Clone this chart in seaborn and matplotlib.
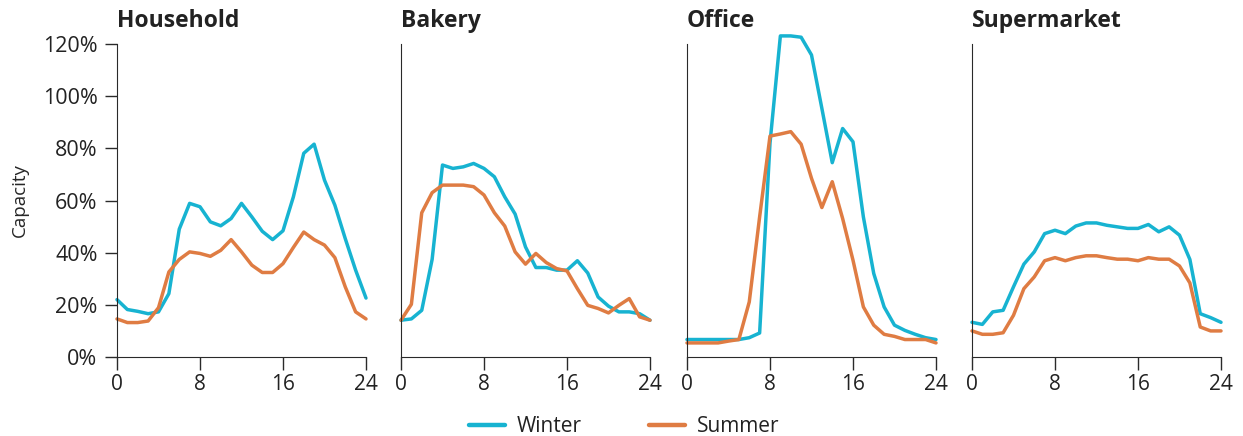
import numpy as np
import pandas as pd
import matplotlib.pyplot as plt
import seaborn as sns

hours = list(range(25))
sites = ["Household", "Bakery", "Office", "Supermarket"]
seasons = ["Winter", "Summer"]

household_winter = [22.0, 18.2, 17.5, 16.6, 17.3, 24.3, 49.0, 58.9, 57.6, 51.8, 50.3, 53.1, 58.9,
                    53.7, 48.2, 45.0, 48.4, 61.4, 78.1, 81.6, 67.8, 58.2, 45.4, 33.3, 22.6]
household_summer = [14.6, 13.2, 13.2, 13.8, 18.9, 32.6, 37.4, 40.3, 39.7, 38.6, 40.9, 45.0, 40.3,
                    35.2, 32.4, 32.4, 35.8, 42.0, 47.9, 45.0, 42.9, 38.1, 26.9, 17.3, 14.6]
bakery_winter = [14.1, 14.6, 17.9, 37.4, 73.6, 72.3, 72.9, 74.2, 72.3, 69.1, 61.4, 54.8, 42.2,
                 34.3, 34.3, 33.3, 33.3, 36.9, 32.2, 23.0, 19.5, 17.3, 17.3, 16.6, 14.1]
bakery_summer = [14.1, 20.2, 55.3, 63.0, 65.9, 65.9, 65.9, 65.3, 62.1, 55.3, 50.2, 40.3, 35.6,
                 39.7, 36.2, 33.9, 33.0, 26.2, 19.8, 18.6, 16.9, 19.8, 22.4, 15.4, 14.1]
office_winter = [6.7, 6.7, 6.7, 6.7, 6.7, 6.7, 7.4, 9.2, 82.0, 123.1, 123.1, 122.6, 115.8,
                 95.3, 74.5, 87.6, 82.5, 53.7, 32.0, 19.2, 12.2, 10.2, 8.7, 7.4, 6.7]
office_summer = [5.4, 5.4, 5.4, 5.4, 6.1, 6.7, 21.1, 53.7, 84.7, 85.5, 86.4, 81.6, 68.5,
                 57.3, 67.2, 53.1, 37.1, 19.2, 12.2, 8.7, 7.9, 6.7, 6.7, 6.7, 5.4]
supermarket_winter = [13.3, 12.5, 17.3, 17.9, 26.9, 35.6, 40.3, 47.3, 48.6, 47.3, 50.2, 51.4, 51.4,
                      50.5, 49.9, 49.3, 49.3, 50.8, 48.0, 49.9, 46.7, 37.4, 16.6, 15.1, 13.3]
supermarket_summer = [10.0, 8.7, 8.7, 9.3, 16.0, 26.2, 30.7, 36.9, 38.1, 36.9, 38.1, 38.8, 38.8,
                      38.1, 37.5, 37.5, 36.9, 38.1, 37.5, 37.5, 34.9, 28.4, 11.5, 10.0, 10.0]

series = {
    ("Household", "Winter"): household_winter, ("Household", "Summer"): household_summer,
    ("Bakery", "Winter"): bakery_winter, ("Bakery", "Summer"): bakery_summer,
    ("Office", "Winter"): office_winter, ("Office", "Summer"): office_summer,
    ("Supermarket", "Winter"): supermarket_winter, ("Supermarket", "Summer"): supermarket_summer,
}
rows = []
for (site, season), vals in series.items():
    for h, v in zip(hours, vals):
        rows.append({"site": site, "season": season, "hour": h, "capacity": v})
df = pd.DataFrame(rows)

palette = {"Winter": "#17b3d1", "Summer": "#df7c43"}

sns.set_style("ticks")
plt.rcParams["font.family"] = ["Open Sans", "DejaVu Sans"]
plt.rcParams["axes.edgecolor"] = "#2a2a2a"
plt.rcParams["xtick.color"] = "#2a2a2a"
plt.rcParams["ytick.color"] = "#2a2a2a"
plt.rcParams["text.color"] = "#222222"
plt.rcParams["xtick.labelcolor"] = "#222222"
plt.rcParams["ytick.labelcolor"] = "#222222"

fig = plt.figure(figsize=(12.43, 4.36), dpi=100)
lefts = [117, 401, 687, 972]
width = 249
bottom, top = 357, 44
H, W = 436, 1243
for i, site in enumerate(sites):
    ax = fig.add_axes([lefts[i] / W, 1 - bottom / H, width / W, (bottom - top) / H])
    sns.lineplot(data=df[df.site == site], x="hour", y="capacity", hue="season",
                 hue_order=seasons, palette=palette, linewidth=2.5, ax=ax, legend=False)
    for ln in ax.lines:
        ln.set_clip_on(False)
    ax.set_xlim(0, 24)
    ax.set_ylim(0, 120)
    ax.set_xticks([0, 8, 16, 24])
    ax.set_yticks(range(0, 121, 20))
    ax.tick_params(axis="x", labelsize=15, length=9, width=1, pad=3)
    for s in ["top", "right"]:
        ax.spines[s].set_visible(False)
    ax.set_xlabel("")
    ax.set_ylabel("")
    ax.set_title(site, loc="left", fontsize=16.5, fontweight="bold", pad=12)
    if i == 0:
        ax.set_yticklabels([f"{v}%" for v in range(0, 121, 20)])
        ax.tick_params(axis="y", labelsize=15.5, length=9, width=1, pad=5)
        ax.set_ylabel("Capacity", fontsize=13.5, labelpad=10)
    else:
        ax.tick_params(axis="y", left=False, labelleft=False)

handles = [plt.Line2D([], [], color=palette[s], linewidth=3.2) for s in seasons]
fig.legend(handles, seasons, loc="lower center", ncol=2, frameon=False, fontsize=15,
           bbox_to_anchor=(0.502, -0.045), handlelength=1.75, columnspacing=3.2, handletextpad=0.55)

fig.savefig("out.png", dpi=100)
